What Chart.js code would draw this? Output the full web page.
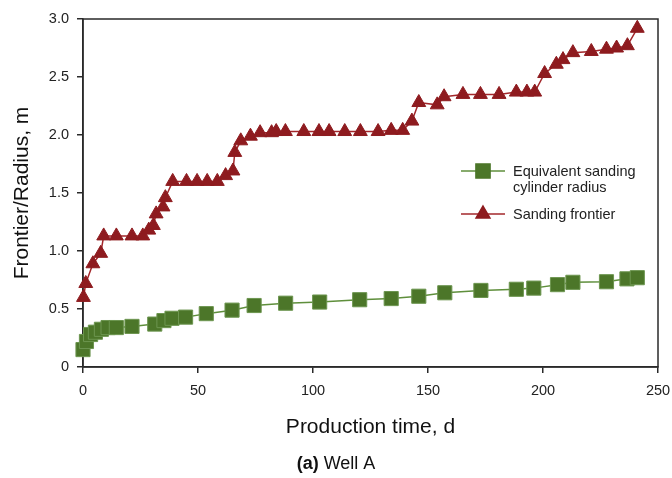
<!DOCTYPE html>
<html>
<head>
<meta charset="utf-8">
<script src="https://cdn.jsdelivr.net/npm/chart.js@4/dist/chart.umd.min.js"></script>
<style>
  html, body { margin: 0; padding: 0; background: #fff; }
  #box { position: relative; width: 672px; height: 478px; }
</style>
</head>
<body>
<div id="box"><canvas id="grafico" width="672" height="478"></canvas></div>
<script>
// Dados
const tempoRaio = [0, 1.5, 3.3, 5.4, 8, 10.9, 14.5, 21.3, 31.2, 35.2, 38.7, 44.6, 53.6, 64.8, 74.4, 88.1, 102.9, 120.3, 134, 146, 157.3, 173, 188.4, 196, 206.3, 213, 227.6, 236.5, 241];
const valoresRaio = [0.15, 0.22, 0.28, 0.30, 0.325, 0.34, 0.34, 0.35, 0.37, 0.40, 0.42, 0.43, 0.46, 0.49, 0.53, 0.55, 0.56, 0.58, 0.59, 0.61, 0.64, 0.66, 0.67, 0.68, 0.71, 0.73, 0.735, 0.76, 0.77];

const tempoFrente = [0.2, 1.2, 4.3, 7.7, 9, 14.5, 21.3, 26, 28.6, 30.6, 31.8, 34.8, 35.8, 39, 45, 49.6, 54, 58.4, 62, 65.2, 66, 68.6, 72.8, 77, 82, 84, 88, 96, 102.6, 107, 113.8, 120.6, 128.3, 134, 139, 143, 146, 154, 157, 165.2, 172.8, 180.9, 188.4, 193, 196.4, 200.7, 205.8, 208.7, 213, 221, 227.6, 232, 236.7, 241];
const valoresFrente = [0.60, 0.72, 0.89, 0.98, 1.13, 1.13, 1.13, 1.13, 1.18, 1.22, 1.32, 1.38, 1.46, 1.60, 1.60, 1.60, 1.60, 1.60, 1.65, 1.69, 1.85, 1.95, 1.99, 2.02, 2.02, 2.03, 2.03, 2.03, 2.03, 2.03, 2.03, 2.03, 2.03, 2.04, 2.04, 2.12, 2.28, 2.26, 2.33, 2.35, 2.35, 2.35, 2.37, 2.37, 2.37, 2.53, 2.61, 2.65, 2.71, 2.72, 2.74, 2.75, 2.77, 2.92];

const nomesSeries = ["Equivalent sanding\ncylinder radius", "Sanding frontier"];
const ticksX = [0, 50, 100, 150, 200, 250];
const ticksY = [0, 0.5, 1.0, 1.5, 2.0, 2.5, 3.0];

const FONTE = "'Liberation Sans', Arial, sans-serif";
const VERDE = '#4c7629';
const VERDE_LINHA = '#5f8f3c';
const VERMELHO = '#8e1b1f';
const VERMELHO_LINHA = '#a3272b';

function pontos(xs, ys) {
    return xs.map((x, i) => ({ x: x, y: ys[i] }));
}

// Moldura, legenda e legenda da figura
const extras = {
    id: 'extras',
    beforeDatasetsDraw(chart) {
        const ctx = chart.ctx;
        const area = chart.chartArea;
        ctx.save();
        ctx.strokeStyle = '#2a2a2a';
        ctx.lineWidth = 1.5;
        ctx.strokeRect(area.left, area.top, area.right - area.left, area.bottom - area.top);
        ctx.restore();
    },
    afterDraw(chart) {
        const ctx = chart.ctx;
        ctx.save();

        // legenda
        const itens = [
            { y: 171, cor: VERDE_LINHA, marca: 'rect', raio: 10, fundo: VERDE, linhas: nomesSeries[0].split('\n') },
            { y: 214, cor: VERMELHO_LINHA, marca: 'triangle', raio: 8, fundo: VERMELHO, linhas: [nomesSeries[1]] }
        ];
        itens.forEach(item => {
            ctx.strokeStyle = item.cor;
            ctx.lineWidth = 1.5;
            ctx.beginPath();
            ctx.moveTo(461, item.y);
            ctx.lineTo(505, item.y);
            ctx.stroke();
            ctx.fillStyle = item.fundo;
            ctx.strokeStyle = item.fundo;
            Chart.helpers.drawPoint(ctx, { pointStyle: item.marca, radius: item.raio, borderWidth: 1, rotation: 0 }, 483, item.y);
            ctx.fillStyle = '#222';
            ctx.font = '14.5px ' + FONTE;
            ctx.textAlign = 'left';
            ctx.textBaseline = 'middle';
            item.linhas.forEach((t, i) => ctx.fillText(t, 513, item.y + 1 + i * 16));
        });

        // (a) Well A
        ctx.textBaseline = 'middle';
        ctx.textAlign = 'left';
        ctx.fillStyle = '#111';
        ctx.font = 'bold 18px ' + FONTE;
        const parte1 = '(a)';
        const parte2 = ' Well A';
        const w1 = ctx.measureText(parte1).width;
        ctx.font = '18px ' + FONTE;
        const w2 = ctx.measureText(parte2).width;
        const x0 = 336 - (w1 + w2) / 2;
        ctx.font = 'bold 18px ' + FONTE;
        ctx.fillText(parte1, x0, 464);
        ctx.font = '18px ' + FONTE;
        ctx.fillText(parte2, x0 + w1, 464);
        ctx.restore();
    }
};

new Chart(document.getElementById('grafico'), {
    type: 'scatter',
    data: {
        datasets: [
            {
                label: nomesSeries[0],
                data: pontos(tempoRaio, valoresRaio),
                showLine: true,
                clip: false,
                borderColor: VERDE_LINHA,
                borderWidth: 1.5,
                pointStyle: 'rect',
                pointRadius: 10,
                pointBackgroundColor: VERDE,
                pointBorderColor: '#6d9650',
                pointBorderWidth: 1
            },
            {
                label: nomesSeries[1],
                data: pontos(tempoFrente, valoresFrente),
                showLine: true,
                clip: false,
                borderColor: VERMELHO_LINHA,
                borderWidth: 1.5,
                pointStyle: 'triangle',
                pointRadius: 8,
                pointBackgroundColor: VERMELHO,
                pointBorderColor: VERMELHO,
                pointBorderWidth: 1
            }
        ]
    },
    options: {
        responsive: false,
        animation: false,
        layout: { padding: { top: 19, right: 14, bottom: 0, left: 0 } },
        plugins: { legend: { display: false }, tooltip: { enabled: false } },
        scales: {
            x: {
                type: 'linear',
                min: 0,
                max: 250,
                afterBuildTicks: scale => { scale.ticks = ticksX.map(v => ({ value: v })); },
                afterFit: scale => {
                    scale.height = 111;
                    scale.paddingLeft = 0;
                    scale.paddingRight = 0;
                },
                grid: { drawOnChartArea: false, drawTicks: true, tickLength: 6, color: '#2a2a2a', lineWidth: 1.5 },
                border: { color: '#2a2a2a', width: 1.5 },
                ticks: { color: '#222', padding: 9, font: { family: FONTE, size: 14.5 } },
                title: {
                    display: true,
                    text: 'Production time, d',
                    color: '#111',
                    font: { family: FONTE, size: 21 },
                    padding: { top: 0, bottom: 38 }
                }
            },
            y: {
                min: 0,
                max: 3,
                afterBuildTicks: scale => { scale.ticks = ticksY.map(v => ({ value: v })); },
                afterFit: scale => {
                    scale.width = 83;
                    scale.paddingTop = 0;
                    scale.paddingBottom = 0;
                },
                grid: { drawOnChartArea: false, drawTicks: true, tickLength: 6, color: '#2a2a2a', lineWidth: 1.5 },
                border: { color: '#2a2a2a', width: 1.5 },
                ticks: {
                    color: '#222',
                    padding: 8,
                    font: { family: FONTE, size: 14.5 },
                    callback: v => v === 0 ? '0' : v.toFixed(1)
                },
                title: {
                    display: true,
                    text: 'Frontier/Radius, m',
                    color: '#111',
                    font: { family: FONTE, size: 21 },
                    padding: { top: 10, bottom: 0 }
                }
            }
        }
    },
    plugins: [extras]
});
</script>
</body>
</html>
